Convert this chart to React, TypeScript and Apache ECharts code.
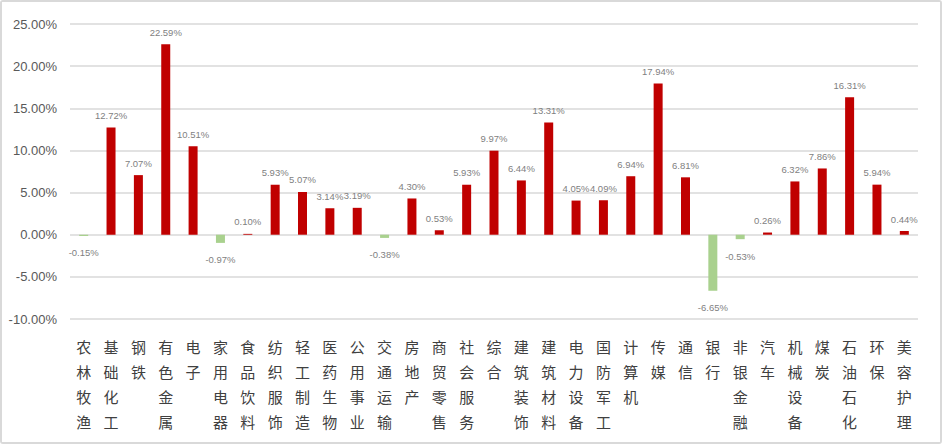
import React, { useEffect, useRef } from "react";
import * as echarts from "echarts";

const categories = [
  "农林牧渔", "基础化工", "钢铁", "有色金属", "电子", "家用电器", "食品饮料", "纺织服饰",
  "轻工制造", "医药生物", "公用事业", "交通运输", "房地产", "商贸零售", "社会服务", "综合",
  "建筑装饰", "建筑材料", "电力设备", "国防军工", "计算机", "传媒", "通信", "银行",
  "非银金融", "汽车", "机械设备", "煤炭", "石油石化", "环保", "美容护理",
];

const values = [
  -0.15, 12.72, 7.07, 22.59, 10.51, -0.97, 0.1, 5.93,
  5.07, 3.14, 3.19, -0.38, 4.3, 0.53, 5.93, 9.97,
  6.44, 13.31, 4.05, 4.09, 6.94, 17.94, 6.81, -6.65,
  -0.53, 0.26, 6.32, 7.86, 16.31, 5.94, 0.44,
];

const yMin = -10;
const yMax = 25;
const yStep = 5;

const RED = "#C00000";
const GREEN = "#A9D18E";
const LABEL_FONT = "'Liberation Sans', Arial, sans-serif";

export default function App() {
  const ref = useRef<HTMLDivElement>(null);
  useEffect(() => {
    document.body.style.margin = "0";
    if (!ref.current) return;
    const chart = echarts.init(ref.current, undefined, { renderer: "svg" });
    chart.setOption({
      animation: false,
      backgroundColor: "#ffffff",
      grid: { left: 68, right: 22, top: 22, bottom: 123, containLabel: false },
      xAxis: {
        type: "category",
        data: categories,
        axisLine: { show: false, onZero: false },
        axisTick: { show: false },
        axisLabel: {
          interval: 0,
          margin: 15,
          fontSize: 15,
          lineHeight: 25,
          color: "#404040",
          fontFamily: "'Noto Sans CJK SC', sans-serif",
          formatter: (v: string) => v.split("").join("\n"),
        },
      },
      yAxis: {
        type: "value",
        min: yMin,
        max: yMax,
        interval: yStep,
        axisLine: { show: false },
        axisTick: { show: false },
        splitLine: { lineStyle: { color: "#d9d9d9", width: 1.5 } },
        axisLabel: {
          margin: 13,
          fontSize: 13,
          color: "#595959",
          fontFamily: LABEL_FONT,
          formatter: (v: number) => v.toFixed(2) + "%",
        },
      },
      series: [
        {
          type: "bar",
          barWidth: 9,
          data: values.map((v) => ({
            value: v,
            itemStyle: { color: v >= 0 ? RED : GREEN },
            label: {
              show: true,
              position: v >= 0 ? "top" : "bottom",
              distance: v >= 0 ? 7 : 12,
              fontSize: 9.5,
              color: "#7f7f7f",
              fontFamily: LABEL_FONT,
              formatter: v.toFixed(2) + "%",
            },
          })),
        },
      ],
    });
    return () => chart.dispose();
  }, []);
  return (
    <div
      style={{
        width: 942,
        height: 444,
        boxSizing: "border-box",
        border: "2px solid #d9d9d9",
        borderRadius: 3,
        background: "#fff",
      }}
    >
      <div ref={ref} style={{ width: 938, height: 440 }} />
    </div>
  );
}
